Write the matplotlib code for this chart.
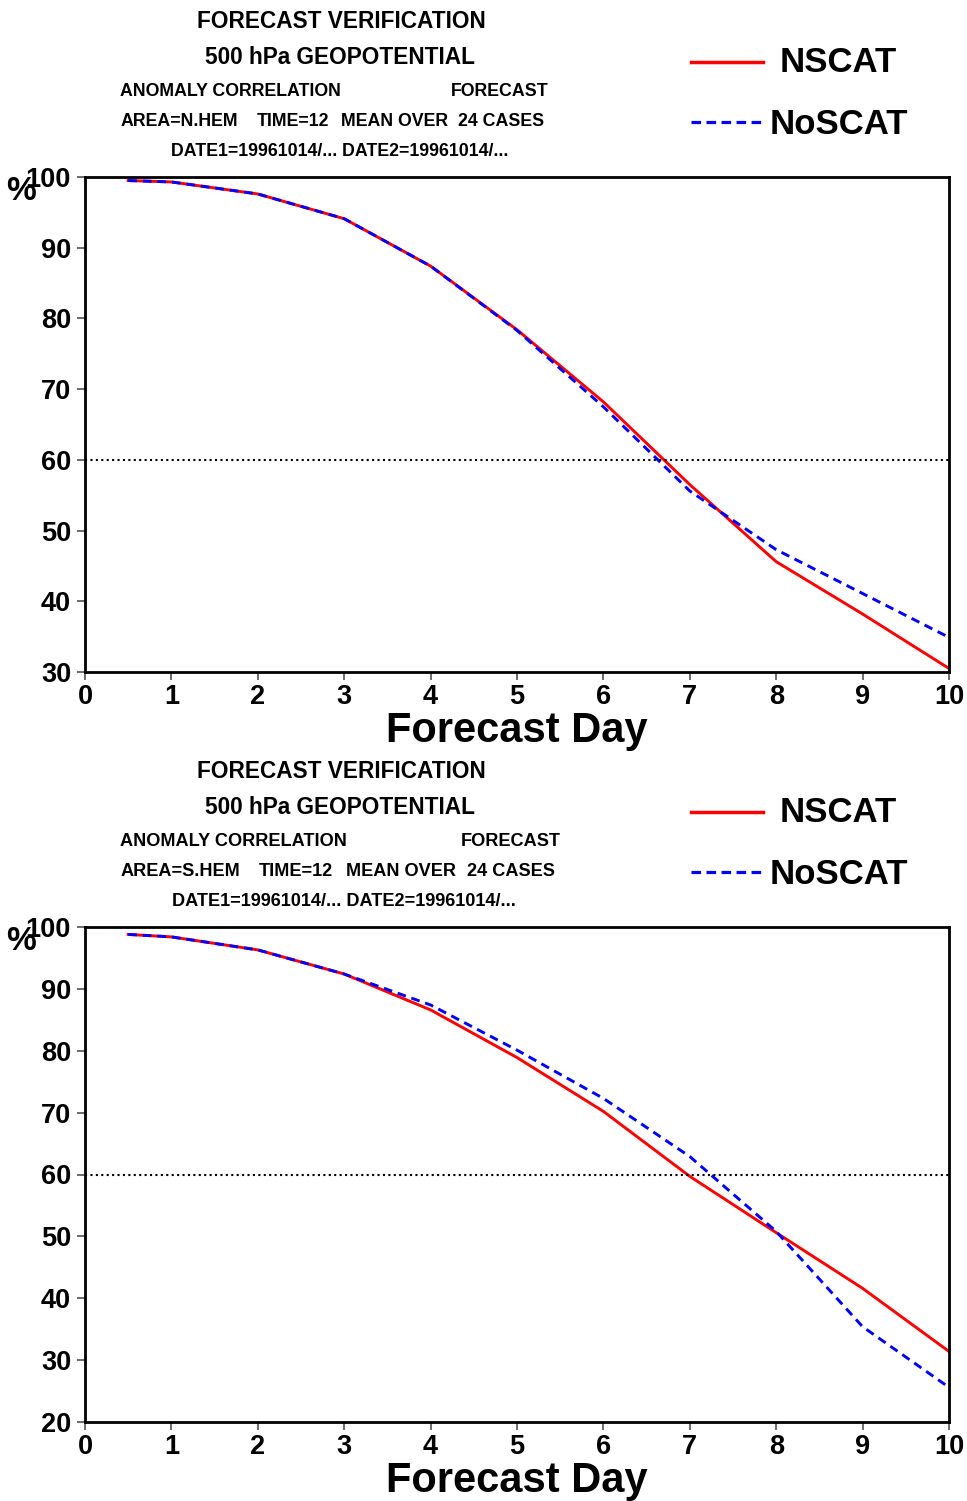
import matplotlib
matplotlib.use("Agg")
import matplotlib.pyplot as plt

plt.rcParams['font.family'] = ['Liberation Sans', 'DejaVu Sans']
plt.rcParams['font.weight'] = 'bold'

W, H = 967, 1501

days = [0.5, 1, 2, 3, 4, 5, 6, 7, 8, 9, 10]

# northern hemisphere
nh_nscat = [99.5, 99.3, 97.6, 94.1, 87.4, 78.4, 68.2, 56.5, 45.6, 38.2, 30.5]
nh_noscat = [99.5, 99.3, 97.6, 94.1, 87.4, 78.3, 67.5, 55.6, 47.3, 41.1, 34.9]

# southern hemisphere
sh_nscat = [98.8, 98.4, 96.3, 92.4, 86.6, 78.9, 70.2, 59.7, 50.6, 41.6, 31.4]
sh_noscat = [98.8, 98.4, 96.3, 92.4, 87.4, 80.1, 72.3, 62.9, 50.8, 35.4, 25.6]

panels = [
    dict(area="AREA=N.HEM", nscat=nh_nscat, noscat=nh_noscat, ylim=(30, 100),
         yticks=[30, 40, 50, 60, 70, 80, 90, 100], off=0, fs=12.8,
         words_x=[121, 257, 341, 458], fc_x=451, date_x=340),
    dict(area="AREA=S.HEM", nscat=sh_nscat, noscat=sh_noscat, ylim=(20, 100),
         yticks=[20, 30, 40, 50, 60, 70, 80, 90, 100], off=750, fs=13.1,
         words_x=[121, 259, 346, 467], fc_x=461, date_x=344),
]

fig = plt.figure(figsize=(W / 100, H / 100), dpi=100)


def ftext(x, y, s, **kw):
    fig.text(x / W, 1 - y / H, s, **kw)


for p in panels:
    off = p['off']
    top, bot = 177 + off, 672 + off
    ax = fig.add_axes([85 / W, 1 - bot / H, 864 / W, (bot - top) / H])
    ax.plot(days, p['nscat'], color='red', lw=2.1, solid_joinstyle='round')
    ax.plot(days, p['noscat'], color='blue', lw=2.1, ls=(0, (3, 2)))
    ax.axhline(60, color='black', lw=1.5, ls=(0, (1, 1.6)))
    ax.set_xlim(0, 10)
    ax.set_ylim(*p['ylim'])
    ax.set_xticks(range(11))
    ax.set_yticks(p['yticks'])
    ax.tick_params(direction='out', length=6, width=1.1, color='#444',
                   labelsize=19.5)
    ax.tick_params(axis='x', pad=3)
    ax.tick_params(axis='y', pad=4)
    for sp in ax.spines.values():
        sp.set_linewidth(2)
    fig.text(517 / W, 1 - (731 + off) / H, "Forecast Day", fontsize=30,
             fontweight='bold', ha='center', va='center')

    ftext(21, 192 + off, "%", fontsize=24, fontweight='bold', ha='center', va='center')

    # header
    ftext(341, 21 + off, "FORECAST VERIFICATION", fontsize=16.3, ha='center', va='center')
    ftext(340, 58 + off, "500 hPa GEOPOTENTIAL", fontsize=16.3, ha='center', va='center')
    fs = p['fs']
    ftext(120, 92 + off, "ANOMALY CORRELATION", fontsize=fs, ha='left', va='center')
    ftext(p['fc_x'], 92 + off, "FORECAST", fontsize=fs, ha='left', va='center')
    words = [p['area'], "TIME=12", "MEAN OVER", "24 CASES"]
    for wx, w in zip(p['words_x'], words):
        ftext(wx, 122 + off, w, fontsize=fs, ha='left', va='center')
    ftext(p['date_x'], 152 + off, "DATE1=19961014/... DATE2=19961014/...", fontsize=fs,
          ha='center', va='center')

    # legend
    y1, y2 = (62 + off) / H, (122 + off) / H
    fig.add_artist(plt.Line2D([691 / W, 763 / W], [1 - y1, 1 - y1], color='red', lw=2.5))
    fig.add_artist(plt.Line2D([691 / W, 763 / W], [1 - y2, 1 - y2], color='blue', lw=2.3,
                              ls=(0, (3, 1.7))))
    ftext(780, 63 + off, "NSCAT", fontsize=25, ha='left', va='center')
    ftext(770, 124 + off, "NoSCAT", fontsize=25, ha='left', va='center')

fig.savefig("out.png", dpi=100)
